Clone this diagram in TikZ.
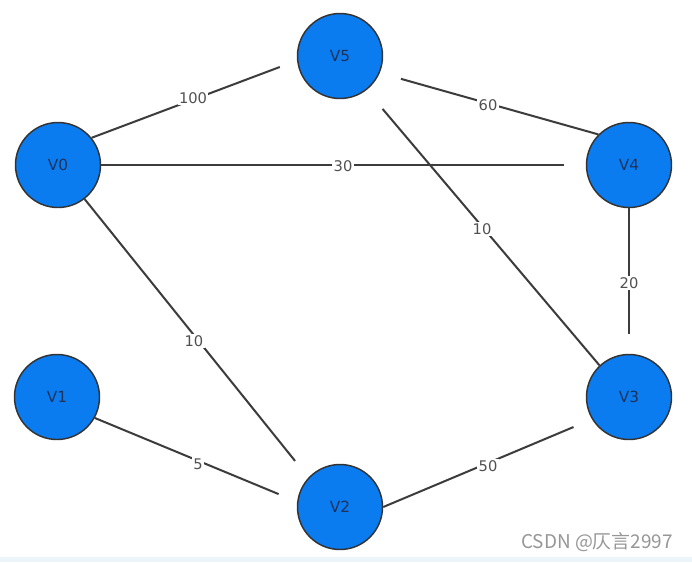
\documentclass[tikz,border=0pt]{standalone}
\usepackage{fontspec}
\setmainfont{DejaVu Sans}
\newfontfamily\cjkfont{Noto Sans CJK SC}
\definecolor{nodeblue}{RGB}{10,124,240}
\definecolor{navytext}{RGB}{30,50,90}
\definecolor{edgegray}{RGB}{60,60,60}
\definecolor{labelgray}{RGB}{80,80,80}
\definecolor{wmgray}{RGB}{150,150,150}
\definecolor{stripblue}{RGB}{236,245,250}
\begin{document}
\begin{tikzpicture}[x=0.75pt,y=-0.75pt,
  vertex/.style={circle,draw=black!80,line width=1.1pt,fill=nodeblue,minimum size=63.75pt,inner sep=0pt,
    font=\fontsize{11.5}{13}\selectfont,text=navytext},
  edge/.style={draw=edgegray,line width=1.5pt},
  wlabel/.style={fill=white,inner sep=1pt,text=labelgray,font=\fontsize{11}{12}\selectfont}]
\fill[white] (0,0) rectangle (692,562);
\fill[stripblue] (0,557) rectangle (692,562);
\useasboundingbox (0,0) rectangle (692,562);
% vertices
\node[vertex] (V5) at (340,56) {V5};
\node[vertex] (V0) at (58,165) {V0};
\node[vertex] (V4) at (629,165) {V4};
\node[vertex] (V1) at (57,397) {V1};
\node[vertex] (V3) at (629,397) {V3};
\node[vertex] (V2) at (340,507) {V2};
% edges
\draw[edge,shorten >=13.8pt] (V0.39) -- (V5.186);
\draw[edge,shorten >=16.5pt] (V4.135) -- (V5.-23);
\draw[edge,shorten >=16.5pt] (V0.0) -- (V4.180);
\draw[edge,shorten >=18.5pt] (V3.133) -- (V5.-52);
\draw[edge,shorten >=15pt] (V4.-90) -- (V3.90);
\draw[edge,shorten >=16pt] (V0.-52) -- (V2.137);
\draw[edge,shorten >=15pt] (V1.-29) -- (V2.173);
\draw[edge,shorten >=15pt] (V2.0) -- (V3.211);
% edge labels
\node[wlabel] (L100) at (193,98) {100};
\node[wlabel] (L60) at (488,105) {60};
\node[wlabel] (L30) at (343,166) {30};
\node[wlabel] (L10a) at (482,229) {10};
\node[wlabel] (L20) at (629,283) {20};
\node[wlabel] (L10b) at (194,341) {10};
\node[wlabel] (L5) at (198,464) {5};
\node[wlabel] (L50) at (488,466) {50};
% watermark
\node[text=wmgray,font=\cjkfont\fontsize{14.2}{16}\selectfont,inner sep=0pt] (WM) at (597,542) {CSDN @仄言2997};
\end{tikzpicture}
\end{document}
